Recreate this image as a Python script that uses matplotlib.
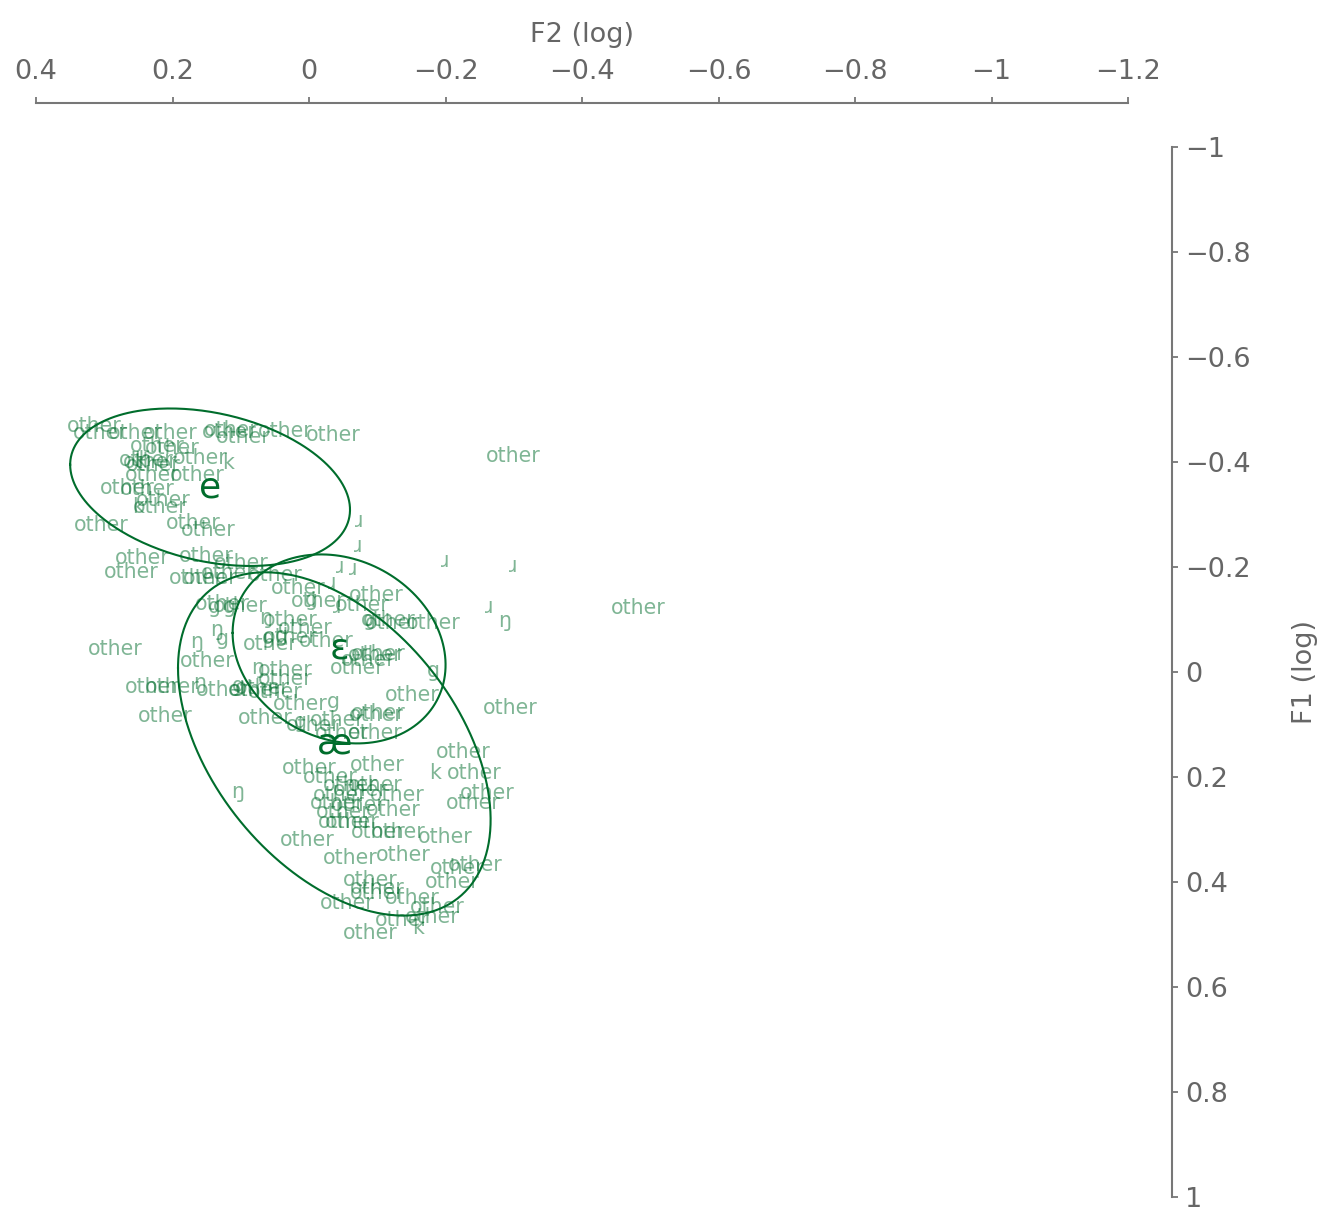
import numpy as np
import matplotlib
matplotlib.use("Agg")
from matplotlib import pyplot as plt

# token labels (following context) with normalised log formants
token_labels = [
    "other", "other", "other", "other", "other", "other", "other", "other", "other",
    "other", "other", "other", "other", "k", "other", "k", "other", "other",
    "other", "other", "other", "other", "k", "other", "other", "other", "other",
    "other", "other", "other", "other", "other", "other", "other", "other", "other",
    "other", "other", "g", "g", "other", "other", "other", "g", "ŋ",
    "other", "other", "other", "other", "other", "g", "ŋ", "g", "ŋ",
    "other", "other", "other", "other", "g", "g",
    "other", "other", "other", "other", "g", "other",
    "other", "ŋ", "other", "other", "other", "other", "ŋ", "other", "g",
    "other", "other", "other", "other", "other", "other", "g", "other", "other",
    "other", "other", "other", "g", "other", "other",
    "other", "other", "other", "other", "k", "other", "ŋ", "other", "other",
    "other", "other", "other", "other", "other", "other", "other", "other", "other",
    "other", "other", "other", "other", "other", "other", "other", "other", "other",
    "other", "other", "other", "other", "other", "other", "other", "other", "other",
    "other", "k", "other",
    "other", "other", "ŋ",
    "ɹ", "ɹ", "ɹ", "ɹ", "ɹ", "ɹ", "ɹ", "ɹ", "ɹ",
]
token_f2 = [
    0.314, 0.306, 0.255, 0.204, 0.117, 0.114, 0.097, 0.035, -0.035,
    0.223, 0.201, 0.239, 0.229, 0.248, 0.160, 0.119, 0.230, 0.164,
    0.267, 0.237, 0.214, 0.218, 0.251, 0.305, 0.170, 0.148, 0.233,
    0.245, 0.261, 0.151, 0.100, 0.166, 0.145, 0.119, 0.050, 0.016,
    0.127, 0.101, 0.138, 0.117, -0.013, -0.098, -0.078, -0.004, 0.064,
    0.028, 0.006, -0.116, -0.122, -0.182, -0.089, 0.136, 0.127, 0.164,
    0.284, 0.057, 0.028, -0.025, 0.060, 0.040,
    -0.101, -0.097, -0.086, -0.070, -0.182, -0.151,
    0.149, 0.076, 0.035, 0.035, 0.230, 0.201, 0.160, 0.125, 0.103,
    0.069, 0.050, 0.079, 0.211, 0.064, 0.013, -0.035, -0.295, -0.101,
    -0.098, -0.041, -0.006, 0.013, -0.048, -0.097,
    -0.001, -0.100, -0.031, -0.226, -0.185, -0.242, 0.104, -0.060, -0.097,
    -0.075, -0.045, -0.129, -0.261, -0.240, -0.041, -0.072, -0.123, -0.050,
    -0.053, -0.063, -0.101, -0.130, -0.199, 0.003, -0.060, -0.138, -0.217,
    -0.243, -0.089, -0.100, -0.100, -0.210, -0.056, -0.151, -0.188, -0.180,
    -0.136, -0.160, -0.089,
    -0.299, -0.482, -0.286,
    -0.073, -0.072, -0.199, -0.299, -0.045, -0.064, -0.034, -0.264, -0.041,
]
token_f1 = [
    -0.469, -0.455, -0.455, -0.455, -0.457, -0.461, -0.448, -0.459, -0.451,
    -0.430, -0.427, -0.404, -0.394, -0.402, -0.408, -0.398, -0.375, -0.375,
    -0.350, -0.349, -0.328, -0.314, -0.314, -0.280, -0.284, -0.270, -0.400,
    -0.217, -0.190, -0.221, -0.208, -0.179, -0.179, -0.189, -0.185, -0.160,
    -0.130, -0.126, -0.124, -0.124, -0.135, -0.147, -0.128, -0.137, -0.103,
    -0.099, -0.084, -0.099, -0.093, -0.093, -0.099, -0.080, -0.063, -0.057,
    -0.044, -0.053, -0.067, -0.059, -0.065, -0.069,
    -0.034, -0.032, -0.023, -0.008, -0.002, 0.044,
    -0.021, -0.008, -0.004, 0.013, 0.029, 0.029, 0.021, 0.034, 0.027,
    0.030, 0.038, 0.034, 0.084, 0.088, 0.061, 0.057, 0.069, 0.078,
    0.082, 0.091, 0.101, 0.095, 0.116, 0.116,
    0.183, 0.177, 0.200, 0.152, 0.192, 0.192, 0.229, 0.215, 0.215,
    0.225, 0.234, 0.234, 0.230, 0.250, 0.250, 0.253, 0.263, 0.267,
    0.286, 0.286, 0.305, 0.305, 0.314, 0.320, 0.354, 0.349, 0.373,
    0.368, 0.396, 0.411, 0.421, 0.400, 0.440, 0.430, 0.448, 0.467,
    0.472, 0.488, 0.497,
    -0.411, -0.122, -0.097,
    -0.288, -0.240, -0.211, -0.202, -0.200, -0.196, -0.170, -0.124, -0.124,
]

# vowel means and spread (for the ellipses)
vowels = ["e", "ɛ", "æ"]
vowel_f2 = [0.145, -0.044, -0.037]
vowel_f1 = [-0.352, -0.044, 0.137]
vowel_sd_f2 = [0.205, 0.156, 0.229]
vowel_sd_f1 = [0.150, 0.180, 0.327]
vowel_rho = [-0.286, -0.169, -0.442]

green = "#006d2c"
grey = "#666666"

plt.rcParams["font.family"] = ["DejaVu Sans"]

fig = plt.figure(figsize=(13.3, 12.12), dpi=100)
ax = fig.add_axes([0.0271, 0.01238, 0.8211, 0.8663])

for lab, x, y in zip(token_labels, token_f2, token_f1):
    ax.text(x, y, lab, color=green, alpha=0.5, fontsize=14.8,
            ha="center", va="center")

t = np.linspace(0, 2 * np.pi, 300)
for v, cx, cy, sx, sy, r in zip(vowels, vowel_f2, vowel_f1,
                                vowel_sd_f2, vowel_sd_f1, vowel_rho):
    ex = cx + sx * np.cos(t)
    ey = cy + sy * (r * np.cos(t) + np.sqrt(1 - r ** 2) * np.sin(t))
    ax.plot(ex, ey, color=green, lw=1.5)
    ax.text(cx, cy, v, color=green, fontsize=26, ha="center", va="center")

ax.set_xlim(0.4, -1.2)
ax.set_ylim(1, -1)
ax.set_xticks(np.arange(0.4, -1.21, -0.2))
ax.set_yticks(np.arange(-1, 1.01, 0.2))
ax.set_xticklabels(["0.4", "0.2", "0", "\u22120.2", "\u22120.4", "\u22120.6",
                    "\u22120.8", "\u22121", "\u22121.2"])
ax.set_yticklabels(["\u22121", "\u22120.8", "\u22120.6", "\u22120.4", "\u22120.2",
                    "0", "0.2", "0.4", "0.6", "0.8", "1"])

ax.xaxis.tick_top()
ax.xaxis.set_label_position("top")
ax.yaxis.tick_right()
ax.yaxis.set_label_position("right")

for side in ["left", "bottom"]:
    ax.spines[side].set_visible(False)
for side in ["top", "right"]:
    ax.spines[side].set_position(("outward", 31.7))
    ax.spines[side].set_color("#777777")
    ax.spines[side].set_linewidth(1.5)

ax.tick_params(axis="x", length=4.3, width=1.3, color="#777777",
               labelsize=19.5, labelcolor=grey, pad=9)
ax.tick_params(axis="y", length=4.3, width=1.3, color="#777777",
               labelsize=19.5, labelcolor=grey, pad=5)

ax.set_xlabel("F2 (log)", fontsize=19.5, color=grey, labelpad=12)
ax.set_ylabel("F1 (log)", fontsize=19.5, color=grey, labelpad=30, rotation=90)

fig.savefig("out.png", dpi=100)
